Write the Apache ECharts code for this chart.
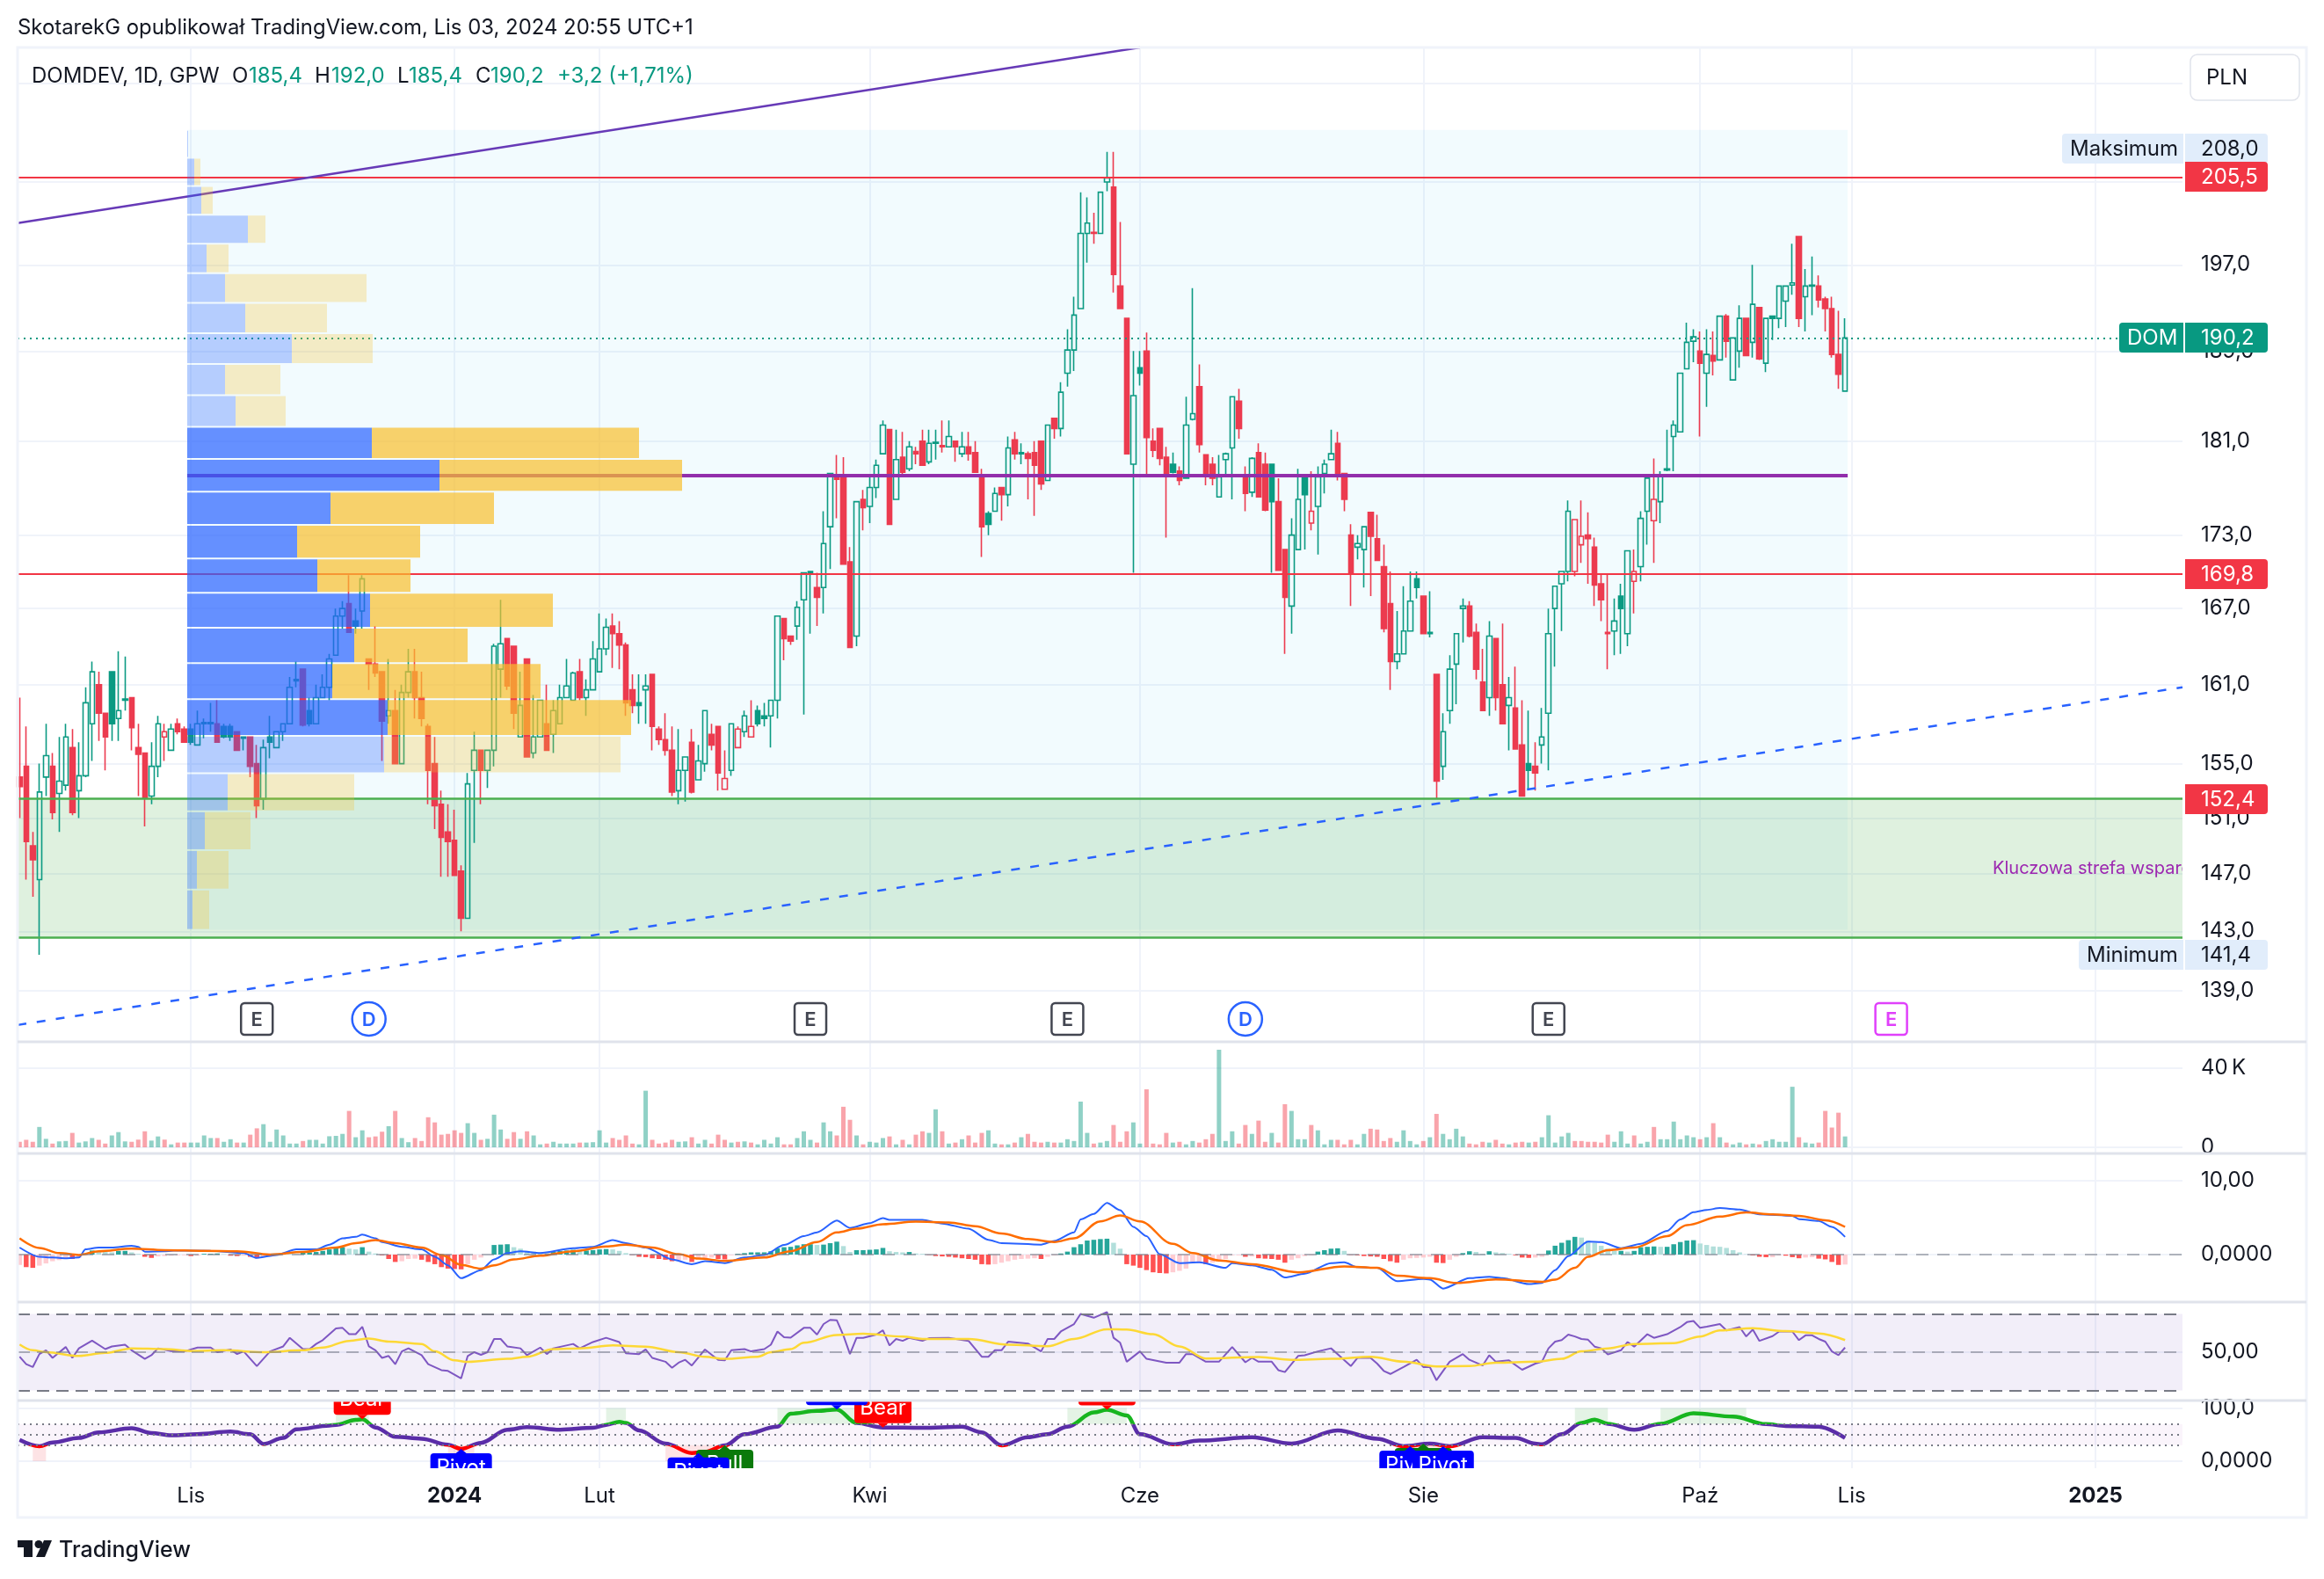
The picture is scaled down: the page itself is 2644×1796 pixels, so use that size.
<!DOCTYPE html>
<html lang="pl">
<head>
<meta charset="utf-8">
<title>DOMDEV, 1D, GPW</title>
<style>html,body{margin:0;padding:0;background:#fff}#chart{width:2644px;height:1796px}</style>
<script src="https://cdn.jsdelivr.net/npm/echarts@6/dist/echarts.min.js"></script>
</head>
<body>
<div id="chart"></div>
<script>
// Daily candles: open, high, low, close, and 1 when the close rose against the previous session.
const candles = [
[154,160,151,153.3,0],[154.8,157.8,146.6,149.3,0],[149,150,145.4,148,0],[146.6,155,141.4,152.9,1],[154,158,152.6,155.6,1],
[154.8,155.8,150.9,151.4,0],[152.8,157,150,153.7,1],[153.4,158,153,157,1],[156.2,157.6,151.2,151.4,0],[153,156.6,151,154.1,1],
[154.1,160.8,154,159.6,1],[158,162.8,155.2,162,1],[161,162,156.7,158.8,0],[158.8,158.8,154.5,157,0],[162,162,156.7,158,1],
[158.4,163.6,156.7,159,1],[159.8,163.2,159,159.9,1],[160,160,156,157.7,0],[156.2,158,152.6,155.7,0],[155.8,155.8,150.4,152.5,0],
[152.6,156.6,152,154.8,1],[154.8,158.6,154,158,1],[157,158,155.2,157.4,0],[156,158,156,157.6,1],[158,158.4,157.2,157.4,0],
[157.6,157.8,156.6,156.6,0],[157.6,158,156.4,156.6,1],[156.4,159,156.4,158,1],[158,158.4,156.9,158.1,1],[158,159.6,157.4,158.1,1],
[158,159.8,156.6,156.6,0],[157.8,158,156.9,157,1],[157.8,158,156.7,157,1],[157.4,157.4,156,156,0],[156.9,157,156,157,1],
[157,157,154,154.8,0],[155,156.4,151,151.9,0],[152.4,156.8,151.6,156.2,1],[157,158.6,155.4,156.6,1],[156.2,157.4,156.2,157.4,1],
[157.4,158,156.7,158,1],[158,161.6,158,160.8,1],[161.3,162.8,160.8,161.4,1],[162.2,162.2,157.8,157.9,0],[159,160,157.8,158,1],
[158,161,158,160,1],[160,161.8,160,160.8,1],[160.8,163.4,159.8,163,1],[163.3,167,163.3,166.4,1],[166.4,167.6,165.4,167,1],
[167.4,169.7,165.1,165.1,0],[166,167,165,165.6,1],[166.8,169.7,165.4,169.4,1],[163,163,160.6,162.6,0],[162.6,165.6,161.6,161.9,0],
[162,162,155.2,158.2,0],[158.6,163,158,159,1],[159,160.6,155,155,0],[155,161,155,160.4,1],[160.4,163.8,160,162,1],
[162,163.8,158.4,160,0],[160,162,157.8,158.4,0],[157.8,158,152,154.5,0],[155,157,150.2,151.9,0],[152,153,146.8,149.6,0],
[150,152,146.8,149.3,0],[149.4,151.6,146.9,146.9,0],[147.2,147.6,143,143.9,0],[143.9,154.3,143.9,153.5,1],[154.5,157.4,149.2,156,1],
[156,156,152,154.5,0],[154.5,156,153.2,156,1],[156,164.2,154.8,164,1],[162.2,167.7,160,164.2,1],[164.6,164.6,160.6,160.9,0],
[164,164,157.6,158.8,0],[157,162,157,159.4,1],[163,163,155.5,155.5,0],[155.8,160.2,155.4,157,1],[157,159.8,157,159.8,1],
[158,161,156,156,0],[157.2,159.8,155.8,159,1],[158,161,158,160,1],[160,163,160,160.9,1],[159.8,162,159.8,161.9,1],
[162,163,159.8,160,0],[160,161.4,158.6,160.6,1],[160.6,164.4,160.6,163,1],[162,166.6,162,163.8,1],[163.8,166.2,163.3,165.5,1],
[165.6,166.6,162.3,165,0],[165,166,162.2,164.1,0],[164.1,164.3,158.6,159.6,0],[160.6,161.8,158.8,159.4,0],[159.6,161.8,158,159.4,1],
[160.6,161.8,158,160.9,1],[161.8,161.8,156,157.8,0],[157.6,157.8,156.4,156.8,0],[156.8,158.8,155.6,156,0],[156,157.8,152.6,152.9,0],
[153,157.6,152,154.5,1],[154.5,155.5,152.2,155.5,1],[156.6,157.6,152.8,152.9,0],[153.8,156.4,153.8,155.2,1],[155,159,154.4,159,1],
[157.2,158,156,156.4,0],[157.8,157.8,153,154.3,0],[153.1,156,153.1,153.9,0],[154.5,158,154.1,158,1],[156.2,157.8,156.2,157.6,0],
[157.4,159,157,158.6,1],[157,159.8,157,157.8,0],[159,159.4,157.8,158,1],[158.6,159.6,157.8,158.4,1],[158.6,159.8,156.2,159.8,1],
[159.8,166.4,158.4,166.4,1],[166.2,166.2,162.9,164.6,0],[164.8,164.8,164.1,164.4,0],[165.6,167.6,164.5,167.1,1],[167.7,169.9,158.7,169.9,1],
[169.9,170,165,170,1],[168.7,169.9,165.6,167.9,0],[168.7,175,166.6,172.3,1],[173.7,178.2,170.2,178.2,1],[178,179.8,174.4,177.7,0],
[177.9,179.6,170.6,170.6,0],[170.8,172,163.9,163.9,0],[164.8,175.8,164,175.8,1],[176,176.8,173.4,175.3,0],[175.4,177.9,174,177,1],
[177,179.4,176.1,178.9,1],[179.9,182.8,179.9,182.4,1],[182,182,173.9,173.9,0],[176,182,176,179.4,1],[179.6,181.8,178.1,178.3,0],
[178.6,181,178.4,180.5,1],[180.1,180.5,179,179.9,0],[181,182,178.9,178.9,0],[179.2,182,179,180.8,1],[180.8,182,179.4,180.9,1],
[180.6,182.8,180,180.5,0],[180.5,182.8,180.5,181.4,1],[181,181,179.2,180.5,0],[179.9,181.8,179.6,180.5,1],[180.5,181.8,179.3,179.9,0],
[180,181,178.3,178.3,0],[178,178.6,171.2,173.7,0],[174.8,175,173,173.9,1],[175,177,175,176.5,1],[177,177,174.2,176.4,0],
[176.4,181.4,175.4,180.4,1],[181.1,181.8,179.4,179.9,0],[179.9,180.8,179,180,1],[179.9,180.1,176,179.5,0],[180,181,174.6,178.9,0],
[181,181,176.8,177.3,0],[177.6,182.4,177.6,182.4,1],[183,183,181.2,182.1,0],[182.1,186.2,181.4,185.3,1],[187,191,185.8,189.1,1],
[189.1,194,187.2,192.3,1],[192.9,204,192.9,200,1],[200,203.5,197.2,201,1],[200.1,202,199,200,0],[200,204,200,204,1],
[205,208,204.1,205.4,1],[204.5,208,194.4,196.1,0],[195,201.1,192.9,192.9,0],[192,192,179.9,179.9,0],[179,189,169.9,185,1],
[187.5,189,185.9,187,1],[189,190.7,178,181.3,0],[181,182.1,179.6,180.2,0],[182.1,182.1,178.9,179.5,0],[179.6,180.5,172.8,178,0],
[179,180,178.2,178.3,1],[178.4,178.8,177.2,177.6,0],[177.8,184.9,177.8,182.4,1],[182.9,194.8,182.8,183.4,1],[185.8,187.8,180,180.7,0],
[179.8,179.8,177.2,178,0],[179,179.6,177.2,177.8,0],[176.2,179.8,176.2,177.9,1],[179.4,180,178,179.9,1],[180.4,184.9,176,184.9,1],
[184.5,185.6,181.2,182.1,0],[177.8,178.8,175,176.5,0],[176.6,179.6,176.2,179.5,1],[180,180.8,176.2,176.2,0],[179,180,175,175.1,0],
[179,179,169.9,175.8,1],[175.8,177.8,170.1,170.1,0],[171.8,171.8,163.4,167.9,0],[167.2,174.4,165,173,1],[171.8,178.6,171.8,176,1],
[177.8,177.9,171.8,176.4,1],[174,178.4,173.4,175,0],[175.4,178.8,171.4,177.9,1],[178.2,179.4,176.5,179,1],[179.4,182,179.4,179.9,1],
[180.8,181.8,177.6,178,0],[178.2,178.2,175,176,0],[173,173.9,167.2,169.9,0],[172,173,171,172.3,1],[171.8,173.7,168.7,173.7,1],
[174.9,174.9,168,172.9,0],[172.7,174.7,170.9,170.9,0],[170.4,172.2,165.1,165.4,0],[167.4,170,160.6,162.8,0],[162.8,166.8,162.2,163.4,1],
[163.4,168.8,163.4,165.2,1],[165.2,170,165.2,167.6,1],[169.4,170,167.8,168.7,1],[168,168,165,165,0],[165,168.4,164.7,165.1,1],
[161.8,161.8,152.4,153.7,0],[154.8,158.8,153.8,157.4,1],[159,163.3,158,162.2,1],[162.6,165,159.5,165,1],[167,167.8,164.3,167.2,1],
[167.2,167.6,164.7,164.8,0],[165.1,165.8,161.4,162.2,0],[161.2,163.8,159,159,0],[160,166,158.6,164.8,1],[164.6,164.6,159,160,0],
[161,165.8,158,158,0],[159.4,161.6,156,160,1],[159.2,162.4,156.1,156.1,0],[156.4,159.8,152.6,152.6,0],[155,159,153.1,154.5,1],
[154.8,156.6,153,154.3,0],[156.4,159.2,155,157,1],[158.8,167,154.5,165,1],[167,168.8,162.4,168.8,1],[169,170,165.2,170,1],
[170,175.9,169.2,175,1],[170,174.3,169.6,174.3,0],[172.2,175.9,170.7,172.9,0],[173,174.9,169,172.7,0],[172,172.8,167.2,168.9,0],
[169,169.8,166,167.7,0],[165.1,169.8,162.2,165,0],[165.2,167.8,163.3,166,1],[168,169,163.4,167,1],[165,171.7,164,171.7,1],
[169.2,171.8,166.6,170,0],[170.4,175,169.2,174.4,1],[175,177.8,172.2,177.8,1],[174.2,179.5,170.7,176,0],[175.8,178.4,174,178,1],
[178.5,182,178.4,178.6,1],[181.4,182.8,178.4,182.4,1],[181.8,187,181.8,187,1],[187.4,191.6,187.4,189.8,1],[189.9,191,188,190.3,1],
[189,190.8,181.4,187.9,0],[187,191,184,188.7,1],[188.6,190.8,186.8,188.1,0],[188.2,192.2,188.2,192.2,1],[192.2,192.4,188.4,189.9,0],
[186.4,190.2,186.4,190.2,1],[189,193.2,187.5,192,1],[192,192,188.6,188.6,0],[189.8,197,188.4,193.3,1],[193,193,188.2,188.3,0],
[187.9,192,187.1,192,1],[192.2,192.2,190,192,1],[192,195,191.1,195,1],[193.6,195,191.2,195,1],[195.1,199,194.2,195.3,1],
[199.7,199.7,191.2,192,0],[194,196.6,190.8,195,1],[195,197.8,192.3,195.1,1],[195,196,193,193.7,0],[193.8,194,190.8,192.9,0],
[192.9,194,188.4,188.7,0],[188.7,192.7,185.6,186.9,0],[185.4,192,185.4,190.2,1]
];

// Session volume, in thousands of shares.
const volumes = [
2.8,3.8,2.8,10.3,4.3,1.9,3,3.2,7.3,2.4,3,4.7,3.8,1.9,6,7.7,3,2.8,3.9,8.1,
3.4,5.5,3.9,1.5,2.4,2.4,2.4,2.4,6,4.7,4.7,2.8,4.1,2.4,2.4,6.4,9.6,11.7,2.8,9,
6,1.9,1.9,3.2,3.8,3.8,1.9,5.6,5.8,6.8,18.4,5.1,8.6,5.1,5.5,7.9,10.7,18.4,4.7,2.6,
4.7,3.2,15.2,12.6,6.4,6.8,8.6,7.3,12.2,7.3,3.8,4.3,16.5,9,4.3,7.7,4.3,8.1,6,1.5,
1.9,2.8,1.9,1.9,1.9,2.4,2.4,2.6,8.6,2.4,4.7,3.8,6,1.9,1.5,28.6,3.8,1.9,2.4,3.8,
2.8,3,5.1,1.9,3.8,1.9,6.4,3.8,2.4,2.8,3,2.4,1.5,3.8,1.9,5.1,1.5,1.5,4.7,8.1,
3.8,2.4,12.6,8.1,6,20.5,13.9,6,1.5,2.8,2.4,4.7,5.5,1.5,3.8,1.5,6.4,8.1,7.3,19.2,
8.1,1.9,2.4,4.1,6,2.4,7.3,8.6,1.9,1.5,1.5,2.4,5.1,6.8,2.8,2.4,2.8,2.4,2.4,4.1,
3.2,23.1,7.3,1.9,2.4,3.2,11.3,2.8,8.1,12.6,1.9,29.3,1.9,1.5,7.3,2.4,2.8,1.5,3.2,2.4,
4.1,6.8,49.3,3.2,8.1,1.9,11.3,6.8,13.5,2.8,7.3,2.4,21.8,18.4,4.1,4.1,11.3,8.6,1.5,3.8,
3.8,1.5,3.8,1.5,6.8,9.4,9,3.2,4.7,2.8,8.6,3.2,1.5,3.2,5.1,16.9,6.8,4.1,9.4,5.5,
1.9,1.5,2.8,2.4,3.8,1.9,1.5,2.4,2.8,2.4,2.8,5.1,16.2,2.4,5.5,7.3,3.2,3.2,2.8,2.8,
2.4,6.4,2.8,8.1,1.9,6,1.9,2.8,10.3,4.1,4.1,13,4.1,6,5.1,4.1,5.1,12.2,5.1,2.4,
1.5,2.4,1.5,1.9,1.5,3.2,4.1,2.8,2.8,30.6,5.1,2.4,1.9,2.4,18.4,10,17.5,5.5
];

// MACD histogram, one value per session.
const macdHistogram = [
-1.4,-1.7,-1.8,-1.5,-1.2,-.9,-.75,-.55,-.6,-.45,-.1,.55,.5,.35,.3,.5,.5,.3,.1,-.3,
-.45,-.25,-.2,-.15,-.1,-.1,-.2,-.15,.1,.1,.15,.05,-.15,-.2,-.15,-.3,-.5,-.3,-.1,.1,
.2,.1,.05,.25,.3,.35,.5,.7,.85,1,.8,.7,1,.4,.15,-.1,-.6,-1,-.9,-.6,-.55,-.7,-1,-1.3,
-1.7,-1.9,-1.95,-2,-1.3,-.7,-.4,0,1.3,1.35,1.4,1,.8,.5,.4,.3,.2,.35,.5,.55,.65,.5,
.55,.6,.7,.75,.7,.5,.2,-.05,-.3,-.35,-.5,-.6,-.7,-.9,-.8,-.7,-1,-.6,-.5,-.4,-.6,-.65,
-.1,.1,.2,.3,.3,.3,.45,.85,1,1.05,1.25,1.4,1.4,1.3,1.35,1.55,1.75,1.15,.35,.6,.6,.65,
.7,.9,.45,.35,.3,.35,.15,.1,-.05,-.2,-.25,-.3,-.4,-.5,-.6,-.7,-1.3,-1.35,-1.3,-1.1,
-.9,-.7,-.6,-.55,-.5,-.6,-.3,-.1,.15,.4,1,1.4,1.9,2,2.1,2.15,1.6,.8,-1.3,-1.5,-1.8,
-2.1,-2.4,-2.5,-2.55,-2.4,-2.2,-1.9,-1.2,-1.15,-1.3,-1.1,-.8,-.6,-.1,-.1,-.3,-.25,-.5,
-.55,-.6,-.7,-1.1,-.7,-.5,-.2,-.1,.4,.6,.8,.85,.5,-.05,-.1,-.2,-.25,-.3,-.6,-.9,-1.1,
-.7,-.5,-.45,-.4,-.3,-1.1,-1.15,-.7,-.3,.2,.45,.35,.1,.45,.3,.2,.1,-.1,-.4,-.45,-.4,
-.3,.55,1.2,1.6,1.95,2.4,2.3,1.9,1.6,1.2,.8,.5,.5,.4,.5,1,1.05,1.1,1.05,1.05,1.4,1.7,
1.9,1.95,1.5,1.3,1.1,1.05,.9,.6,.3,.05,-.1,-.3,-.35,-.35,-.1,-.15,-.35,-.5,-.4,-.35,
-.55,-.65,-1,-1.4,-1.35
];

// Indicator readings as [session, value].
const macdLine = [[0,.95],[3,-.3],[5,-.4],[7,-.5],[9,-.4],[10,.7],[12,.95],[14,.95],[17,1.2],[18,1.05],[19,.4],[22,.45],[24,.55],[29,.5],[34,.2],[36,-.45],[39,-.05],[42,.7],[45,.7],[47,1.35],[49,2.2],[51,2.4],[52,2.7],[54,2.2],[55,1.7],[58,1.05],[61,.7],[63,-.3],[65,-1.45],[67,-3.2],[70,-2.1],[72,-.65],[74,.2],[76,.45],[79,.2],[84,.85],[87,1.05],[90,1.95],[92,1.55],[95,.95],[99,-.65],[102,-1.3],[104,-.9],[107,-1.15],[110,-.4],[113,-.05],[116,1.3],[119,2.5],[121,3],[124,4.6],[126,3.6],[129,4.25],[131,4.95],[132,4.7],[137,4.7],[140,4.2],[144,3.5],[147,2],[149,1.55],[155,1.35],[157,1.85],[160,3],[161,4.75],[163,5.5],[165,7],[167,6],[169,3.75],[171,2.5],[173,.05],[176,-1.15],[179,-1.05],[183,-1.8],[184,-1.15],[187,-1.45],[190,-2.05],[192,-3.1],[195,-2.6],[199,-1.15],[201,-1.05],[203,-1.7],[206,-1.8],[209,-3.6],[213,-3.3],[214,-3.4],[216,-4.6],[220,-3.2],[223,-3],[225,-3.2],[229,-4],[231,-3.85],[233,-2.1],[235,-.2],[238,1.75],[240,1.7],[243,.85],[246,1.45],[250,3.2],[252,4.75],[254,5.75],[256,6.05],[258,6.3],[261,6.1],[264,5.45],[269,5.25],[270,4.8],[273,4.55],[275,3.75],[277,2.4]];
const macdSignal = [[0,2.2],[3,.9],[6,.2],[9,-.05],[12,.45],[17,.8],[22,.6],[28,.5],[33,.45],[38,0],[43,.35],[48,.95],[51,1.55],[54,1.95],[57,1.55],[61,.95],[64,-.05],[67,-1.4],[70,-1.9],[72,-1.45],[75,-.65],[79,-.15],[84,.45],[89,1.1],[92,1.35],[96,.95],[100,.05],[103,-.55],[107,-.85],[113,-.4],[117,.45],[121,1.7],[124,3],[127,3.5],[131,4.1],[136,4.45],[141,4.35],[145,3.85],[149,2.85],[153,2.1],[157,1.7],[160,2.2],[164,4.5],[167,5.3],[170,4.5],[175,1.45],[178,.2],[182,-.8],[187,-1.3],[194,-2.4],[201,-1.6],[206,-1.8],[209,-2.85],[214,-3.2],[218,-3.85],[224,-3.35],[231,-3.7],[233,-3.4],[236,-1.8],[238,-.3],[241,.6],[245,.95],[250,2.5],[253,4],[258,5.15],[262,5.7],[266,5.45],[270,5.25],[274,4.65],[277,3.75]];
const rsiLine = [[0,47.6],[1,43.7],[2,42.2],[3,49],[4,51],[5,47],[7,52.7],[8,47],[9,52],[11,56],[13,51.6],[14,53],[16,53.9],[17,51],[19,46.5],[20,48.4],[21,52],[23,50.6],[25,50.4],[27,52.4],[29,52.4],[30,50],[32,51.4],[33,49],[34,50.4],[36,42.7],[38,50.4],[40,53],[41,57.5],[43,51.6],[44,51.6],[45,54.3],[46,56.3],[48,62.4],[49,62.7],[50,59.4],[51,59.4],[52,63.3],[53,53],[54,51],[55,47],[56,48],[57,43.7],[58,50.4],[59,52],[61,48.4],[62,43.7],[64,40.6],[65,40.2],[67,36.3],[68,48],[69,50],[70,48.6],[71,50],[72,56.9],[73,56.9],[74,53],[76,52],[77,48.4],[79,52.4],[80,49],[81,52],[84,54.3],[85,52],[87,55.3],[89,57.5],[91,55.3],[92,49.4],[94,49],[95,51.4],[96,47],[98,45],[99,41.8],[100,44.5],[101,46],[102,43],[104,51.4],[106,46],[107,45.7],[108,51],[110,51.6],[111,50.4],[113,51.6],[114,53.9],[115,60.8],[116,57.8],[117,57.6],[119,62.7],[120,62.7],[121,59.2],[122,64.7],[123,66.9],[124,66.7],[125,58.8],[126,49],[127,57.5],[128,57.5],[130,59.2],[131,61.4],[132,53.5],[133,56.9],[134,55.9],[135,57.5],[137,55.9],[138,57.3],[141,57.5],[144,55.9],[146,47.6],[147,47.6],[148,51],[149,51],[150,55.5],[153,54.5],[155,50.4],[156,56.9],[157,56.9],[158,60.8],[160,64.7],[161,70],[163,68],[165,71],[166,57.5],[167,54.9],[168,45],[170,50.4],[171,46.5],[174,44.5],[176,44.5],[177,49],[178,49],[180,45],[182,45],[184,52.7],[186,44.7],[187,47],[188,45],[190,45],[191,40.6],[192,39.6],[194,48],[195,48.4],[197,50.4],[199,52],[200,49],[202,42.7],[203,47],[205,47],[206,44],[207,40.2],[208,38.6],[210,42.2],[212,46],[213,42.2],[214,42.2],[215,35.3],[217,45],[219,49],[220,46],[222,43],[223,48.4],[224,45],[226,45.7],[228,40.8],[230,44],[231,45],[232,52],[233,55.5],[234,56.3],[235,59.2],[236,58.2],[237,56.9],[238,56.5],[239,52.9],[240,52],[241,48.8],[243,51],[244,55.3],[245,52.9],[247,59.4],[248,57.5],[250,59.4],[252,63.1],[253,65.7],[254,66.3],[255,62.7],[256,63.3],[258,64.7],[259,61.4],[261,63.1],[262,58.2],[263,61.8],[264,55.9],[266,58.4],[267,60.8],[269,60.8],[270,56.3],[271,58.8],[272,58.8],[273,56.9],[274,55.5],[275,50.4],[276,48.4],[277,52.4]];
const rsiAverage = [[0,54],[2,51],[4,50],[9,48],[13,49.6],[17,52],[22,51.6],[26,50.6],[31,51],[37,50],[43,51],[46,52.4],[50,55.9],[53,57.1],[56,55.5],[61,54.3],[63,50.4],[66,45.7],[68,44.9],[74,46.5],[77,47.6],[81,51.6],[85,52],[90,53.5],[95,52.9],[100,50],[104,47.6],[107,46.5],[112,47.6],[114,50],[117,51.6],[119,54.9],[124,59],[128,59.6],[134,58.2],[137,56.9],[144,56.9],[150,53.9],[156,53.1],[160,56.9],[165,62],[168,61.8],[172,59.4],[176,53],[180,46.7],[188,47.5],[193,46],[199,46.5],[205,47.6],[210,45],[215,42.5],[220,42.7],[224,44.5],[230,45],[234,46.5],[237,50.4],[241,52],[245,54.3],[251,54.7],[255,58.2],[258,61.4],[263,62.5],[268,61],[273,59.8],[277,56.3]];
const waveLine = [[0,40.1],[3,28.2],[5,35.2],[9,43.7],[12,54.2],[17,62],[20,53],[23,48.6],[27,50.7],[32,55.6],[35,50.7],[37,32.4],[40,43.7],[42,60],[47,66.9],[48,68.3],[51,77.5],[52,78.9],[54,63.4],[57,45.8],[61,42.3],[65,31],[67,23.2],[70,34.5],[74,59.2],[77,64.1],[82,59.2],[87,62.7],[89,68.3],[91,73.9],[92,71.8],[94,57.7],[98,32.9],[102,15.5],[104,17.6],[107,29.6],[110,50.7],[115,64.8],[117,89.4],[121,94.4],[124,97.2],[127,71.8],[131,63.4],[137,62.7],[143,64.8],[146,54.2],[149,29.6],[153,45],[156,50.7],[159,64.8],[163,91.5],[165,96.5],[168,86],[170,50.7],[175,31.7],[179,38.7],[187,45],[193,33],[200,57.7],[206,42.3],[210,28.2],[214,33],[217,28.2],[222,45],[227,43.7],[230,33],[231,31.7],[234,50.7],[237,71.8],[239,78.2],[241,70.4],[245,59.2],[249,70.4],[254,90.1],[260,83.8],[265,69.7],[268,66.2],[273,64.8],[277,43.7]];

// Oscillator signals as [session, oscillator value].
const bearSignals = [[52,78.9],[131,63.4],[165,96.5]];
const pivotHighs = [[124,97.2]];
const bullSignals = [[107,29.6],[213,33]];
const pivotLows = [[67,23.2],[103,15.5],[211,28.2],[216,28.2]];

// Spans where the oscillator sits outside its 30-70 channel, as session ranges.
const overboughtSpans = [[48,53],[89,92],[115,127],[159,168],[236,241],[249,262]];
const oversoldSpans = [[2,4],[65,69],[98,106],[209,217]];

// Visible-range volume profile, top row first: buying and selling volume per row.
const profileBuy = [1,8,16,69,22,43,66,119,43,55,210,287,163,125,148,208,190,165,228,224,46,20,11,6];
const profileSell = [0,7,13,20,25,161,93,92,63,57,304,276,186,140,106,208,129,237,277,269,144,52,36,19];
const profileStrong = [0,0,0,0,0,0,0,0,0,0,1,1,1,1,1,1,1,1,1,0,0,0,0,0];
const profileLow = 143.1, profileHigh = 210.2;

// Axis ticks.
const priceGrid = [215,205,197,189,181,173,167,161,155,151,147,143,139];
const priceLabels = [197,189,181,173,167,161,155,151,147,143,139];
const monthSessions = [26,66,88,129,170,213,255,278,315];
const monthNames = ['Lis','2024','Lut','Kwi','Cze','Sie','Paź','Lis','2025'];

// Horizontal levels and sloped drawings.
const resistanceLevels = [205.5,169.8];
const supportZone = [152.4,142.6];
const pointOfControl = 178;
const lastClose = 190.2;
const risingChannel = [[-0.3,201],[170,218.7]];
const supportTrend = [[-0.3,136.7],[328.2,160.8]];

// Earnings and dividend flags along the bottom of the price pane.
const eventSessions = [[36,'E'],[53,'D'],[120,'E'],[159,'E'],[186,'D'],[232,'E'],[284,'F']];

// Tags on the price scale: price, text, prefix, background, text colour, pixel nudge.
const priceTags = [
  [208,'208,0','Maksimum','#e1edfb','#131722',-4],
  [205.5,'205,5','','#f23645','#ffffff',0],
  [190.2,'190,2','DOM','#089981','#ffffff',0],
  [169.8,'169,8','','#f23645','#ffffff',0],
  [152.4,'152,4','','#f23645','#ffffff',0],
  [141.4,'141,4','Minimum','#e1edfb','#131722',0]
];

const FONT = 'Inter, "Noto Sans", sans-serif';
const INK = '#131722', RULE = '#f0f3fa', PANE_RULE = '#e0e3eb';
const GREEN = '#0b9a82', RED = '#ec3b4f';
const HOLLOW = 'rgba(0,0,0,0)';
const LEFT = 20, WIDTH = 2463;
const X_MIN = -0.307, X_MAX = 328.2;
const chart = echarts.init(document.getElementById('chart'), null, {renderer: 'canvas'});

const panes = [
  {top: 54, height: 1131},
  {top: 1185, height: 127},
  {top: 1312, height: 169},
  {top: 1481, height: 112},
  {top: 1593, height: 77}
];

// A body stays hollow when the session closed above its open, solid otherwise.
const candleData = candles.map((c, i) => {
  const tone = c[4] ? GREEN : RED;
  const body = c[3] > c[0] ? HOLLOW : tone;
  return {
    value: [i, c[0], c[3], c[2], c[1]],
    itemStyle: {color: body, color0: body, borderColor: tone, borderColor0: tone}
  };
});
const volumeData = volumes.map((v, i) => ({
  value: [i, v],
  itemStyle: {color: candles[i][4] ? 'rgba(8,153,129,.45)' : 'rgba(242,54,69,.45)'}
}));
const histogramData = macdHistogram.map((v, i) => {
  const before = i ? macdHistogram[i - 1] : v;
  const color = v >= 0 ? (v >= before ? '#26a69a' : '#b2dfdb') : (v < before ? '#ff5252' : '#ffcdd2');
  return {value: [i, v], itemStyle: {color}};
});

function xAxisFor(gridIndex) {
  const isLast = gridIndex === 4;
  return {
    type: 'value', gridIndex, min: X_MIN, max: X_MAX, silent: true,
    axisLine: {show: false},
    axisTick: {show: false, customValues: monthSessions},
    splitLine: {show: true, lineStyle: {color: RULE, width: 2}},
    axisLabel: {
      show: isLast, customValues: monthSessions, margin: 20, fontFamily: FONT, fontSize: 24, color: INK,
      formatter: v => {
        const name = monthNames[monthSessions.indexOf(v)];
        return /^\d+$/.test(name) ? '{b|' + name + '}' : name;
      },
      rich: {b: {fontFamily: FONT, fontSize: 24, fontWeight: 700, color: INK}}
    }
  };
}
function yAxisFor(gridIndex, opts) {
  return Object.assign({
    type: 'value', gridIndex, position: 'right', silent: true,
    axisLine: {show: false},
    axisTick: {show: false, customValues: opts.grid},
    splitLine: {show: true, lineStyle: {color: RULE, width: 2}},
    axisLabel: {customValues: opts.labels, margin: 21, fontFamily: FONT, fontSize: 24, color: INK, formatter: opts.format}
  }, opts.range);
}

const xAxes = [0, 1, 2, 3, 4].map(xAxisFor);
// Hidden horizontal scale for the profile rows, starting where the range begins.
xAxes.push({type: 'value', gridIndex: 0, show: false, min: -193, max: 2270});

const yAxes = [
  yAxisFor(0, {grid: priceGrid, labels: priceLabels, format: v => v.toFixed(1).replace('.', ','),
    range: {type: 'log', logBase: 10, min: 135.6, max: 218.7}}),
  yAxisFor(1, {grid: [0, 40], labels: [0, 40], format: v => v ? v + '\u202fK' : '0', range: {min: -3.1, max: 53.3}}),
  yAxisFor(2, {grid: [0, 10], labels: [0, 10], format: v => v ? '10,00' : '0,0000', range: {min: -6.43, max: 13.69}}),
  yAxisFor(3, {grid: [50], labels: [50], format: () => '50,00', range: {min: 24.7, max: 76.2}}),
  yAxisFor(4, {grid: [0, 100], labels: [0, 100], format: v => v ? '100,0' : '0,0000', range: {min: -13.2, max: 114}})
];

function level(y, color, width, type) {
  return {yAxis: y, lineStyle: {color, width, type}};
}
const noMark = {symbol: ['none', 'none'], silent: true, label: {show: false}, animation: false};

// Volume profile rows are drawn above the candles, which stay visible through them.
function renderProfile(params, api) {
  const i = api.value(0);
  const step = (profileHigh - profileLow) / profileBuy.length;
  const topPrice = profileHigh - i * step, botPrice = topPrice - step;
  const buy = profileBuy[i], sell = profileSell[i], strong = profileStrong[i];
  const a = api.coord([0, topPrice]), b = api.coord([buy, botPrice]), c = api.coord([buy + sell, botPrice]);
  const y = a[1] + 1, h = b[1] - a[1] - 2;
  return {type: 'group', children: [
    {type: 'rect', shape: {x: a[0], y, width: b[0] - a[0], height: h},
      style: {fill: strong ? 'rgba(41,98,255,.7)' : 'rgba(41,98,255,.3)'}},
    {type: 'rect', shape: {x: b[0], y, width: c[0] - b[0], height: h},
      style: {fill: strong ? 'rgba(249,191,44,.7)' : 'rgba(249,191,44,.27)'}}
  ]};
}

function renderTag(params, api) {
  const row = priceTags[api.value(0)];
  const p = api.coord([X_MAX, row[0]]);
  const cy = Math.round(p[1]) + row[5];
  const kids = [
    {type: 'rect', shape: {x: 2486, y: cy - 17, width: 94, height: 34, r: [0, 4, 4, 0]}, style: {fill: row[3]}},
    {type: 'text', style: {x: 2504, y: cy + 1, text: row[1], fill: row[4], font: '24px ' + FONT, align: 'left', verticalAlign: 'middle'}}
  ];
  if (row[2]) {
    const w = row[2] === 'DOM' ? 73 : row[2] === 'Minimum' ? 119 : 138;
    kids.push(
      {type: 'rect', shape: {x: 2484 - w, y: cy - 17, width: w, height: 34, r: [4, 0, 0, 4]}, style: {fill: row[3]}},
      {type: 'text', style: {x: 2484 - w + 9, y: cy + 1, text: row[2], fill: row[4], font: '24px ' + FONT, align: 'left', verticalAlign: 'middle'}}
    );
  }
  return {type: 'group', children: kids};
}

function renderSignal(params, api) {
  const pt = api.coord([api.value(0), api.value(1)]);
  const kind = api.value(2);
  const colors = ['#ff0000', '#0000ff', '#0b7a0b', '#0000ff'];
  const texts = ['Bear', 'Pivot', 'Bull', 'Pivot'];
  const up = kind < 2;
  const w = kind === 0 || kind === 2 ? 65 : 70, h = 34;
  const tip = pt[1];
  const edge = tip + (up ? -5 : 5);
  const boxY = up ? edge - h : edge;
  return {type: 'group', children: [
    {type: 'polygon', shape: {points: [[pt[0], tip], [pt[0] - 6, edge], [pt[0] + 6, edge]]}, style: {fill: colors[kind]}},
    {type: 'rect', shape: {x: pt[0] - w / 2, y: boxY, width: w, height: h, r: 4}, style: {fill: colors[kind]}},
    {type: 'text', style: {x: pt[0], y: boxY + h / 2, text: texts[kind], fill: '#fff', font: '24px ' + FONT, align: 'center', verticalAlign: 'middle'}}
  ]};
}

const signalRows = []
  .concat(bearSignals.map(s => [s[0], s[1], 0]))
  .concat(pivotHighs.map(s => [s[0], s[1], 1]))
  .concat(bullSignals.map(s => [s[0], s[1], 2]))
  .concat(pivotLows.map(s => [s[0], s[1], 3]));

const series = [
  // Range backdrop and support zone
  {type: 'line', xAxisIndex: 0, yAxisIndex: 0, data: [], z: 1, silent: true,
    markArea: {silent: true, z: 1, animation: false, data: [
      [{coord: [25.43, profileHigh], itemStyle: {color: 'rgba(3,169,244,.05)'}}, {coord: [277.4, profileLow]}],
      [{coord: [X_MIN, supportZone[0]], itemStyle: {color: 'rgba(76,175,80,.18)'}}, {coord: [X_MAX, supportZone[1]]}]
    ]}},
  // Candles
  {type: 'candlestick', xAxisIndex: 0, yAxisIndex: 0, data: candleData, barWidth: 6, z: 2,
    itemStyle: {borderWidth: 1.6}, animation: false, silent: true},
  // Levels and trend lines
  {type: 'line', xAxisIndex: 0, yAxisIndex: 0, data: [], z: 3, silent: true,
    markLine: Object.assign({}, noMark, {z: 3, data: [
      ...resistanceLevels.map(v => level(v, '#f23645', 2, 'solid')),
      ...supportZone.map(v => level(v, '#4caf50', 2.5, 'solid')),
      level(lastClose, '#089981', 2, [2, 5]),
      [{coord: [25.43, pointOfControl], lineStyle: {color: '#922eab', width: 4, type: 'solid'}}, {coord: [277.4, pointOfControl]}],
      [{coord: risingChannel[0], lineStyle: {color: '#673ab7', width: 2.5, type: 'solid'}}, {coord: risingChannel[1]}],
      [{coord: supportTrend[0], lineStyle: {color: '#2962ff', width: 2.5, type: [10, 12]}}, {coord: supportTrend[1]}]
    ]})},
  // Zone note, cut off by the plot edge
  {type: 'custom', xAxisIndex: 0, yAxisIndex: 0, z: 3, clip: true, silent: true, data: [[299.4, 147.4]],
    encode: {x: 0, y: 1},
    renderItem: (p, api) => {
      const pt = api.coord([api.value(0), api.value(1)]);
      return {type: 'text', style: {x: pt[0], y: pt[1], text: 'Kluczowa strefa wsparcia', fill: '#9c27b0', font: '20px ' + FONT, align: 'left', verticalAlign: 'middle'}};
    }},
  // Volume profile
  {type: 'custom', xAxisIndex: 5, yAxisIndex: 0, z: 4, silent: true,
    data: profileBuy.map((v, i) => [i]), encode: {x: -1, y: -1}, renderItem: renderProfile},
  // Event flags
  {type: 'custom', xAxisIndex: 0, yAxisIndex: 0, z: 4, silent: true,
    data: eventSessions.map((e, i) => [e[0], 137.1, i]), encode: {x: 0, y: 1},
    renderItem: (p, api) => {
      const pt = api.coord([api.value(0), api.value(1)]);
      const ev = eventSessions[api.value(2)];
      const isDiv = ev[1] === 'D', isNext = ev[1] === 'F';
      const col = isDiv ? '#2962ff' : isNext ? '#e040fb' : '#434651';
      const frame = isDiv
        ? {type: 'circle', shape: {cx: pt[0], cy: pt[1], r: 19}, style: {fill: '#fff', stroke: col, lineWidth: 2.5}}
        : {type: 'rect', shape: {x: pt[0] - 18, y: pt[1] - 18, width: 36, height: 36, r: 4}, style: {fill: '#fff', stroke: col, lineWidth: 2.5}};
      return {type: 'group', children: [frame,
        {type: 'text', style: {x: pt[0], y: pt[1] + 1, text: isDiv ? 'D' : 'E', fill: col, font: '600 22px ' + FONT, align: 'center', verticalAlign: 'middle'}}]};
    }},
  // Price scale tags
  {type: 'custom', xAxisIndex: 0, yAxisIndex: 0, z: 6, silent: true,
    data: priceTags.map((t, i) => [i]), encode: {x: -1, y: -1}, renderItem: renderTag},
  // Volume
  {type: 'bar', xAxisIndex: 1, yAxisIndex: 1, data: volumeData, barWidth: 5, animation: false, silent: true},
  // MACD
  {type: 'bar', xAxisIndex: 2, yAxisIndex: 2, data: histogramData, barWidth: 5.5, animation: false, silent: true,
    markLine: Object.assign({}, noMark, {data: [level(0, 'rgba(120,123,134,.55)', 2, [14, 10])]})},
  {type: 'line', xAxisIndex: 2, yAxisIndex: 2, data: macdLine, showSymbol: false, silent: true, animation: false,
    smooth: 0.25, smoothMonotone: 'x', lineStyle: {color: '#2962ff', width: 2}},
  {type: 'line', xAxisIndex: 2, yAxisIndex: 2, data: macdSignal, showSymbol: false, silent: true, animation: false,
    smooth: 0.35, smoothMonotone: 'x', lineStyle: {color: '#ff6d00', width: 2.5}},
  // RSI
  {type: 'line', xAxisIndex: 3, yAxisIndex: 3, data: rsiLine, showSymbol: false, silent: true, animation: false,
    lineStyle: {color: '#7e57c2', width: 2},
    markArea: {silent: true, animation: false, itemStyle: {color: 'rgba(126,87,194,.1)'},
      data: [[{yAxis: 70}, {yAxis: 30}]]},
    markLine: Object.assign({}, noMark, {data: [
      level(70, '#787b86', 2, [14, 8]), level(30, '#787b86', 2, [14, 8]), level(50, 'rgba(120,123,134,.55)', 2, [14, 8])
    ]})},
  {type: 'line', xAxisIndex: 3, yAxisIndex: 3, data: rsiAverage, showSymbol: false, silent: true, animation: false,
    smooth: 0.35, smoothMonotone: 'x', lineStyle: {color: '#fdd835', width: 2.5}},
  // Oscillator
  {type: 'line', xAxisIndex: 4, yAxisIndex: 4, data: waveLine, showSymbol: false, silent: true, animation: false,
    smooth: 0.35, smoothMonotone: 'x', lineStyle: {width: 4.5},
    markArea: {silent: true, animation: false, data: [
      [{yAxis: 70, itemStyle: {color: 'rgba(156,39,176,.05)'}}, {yAxis: 30}],
      ...overboughtSpans.map(s => [{coord: [s[0], 100], itemStyle: {color: 'rgba(76,175,80,.15)'}}, {coord: [s[1], 70]}]),
      ...oversoldSpans.map(s => [{coord: [s[0], 30], itemStyle: {color: 'rgba(242,54,69,.14)'}}, {coord: [s[1], 0]}])
    ]},
    markLine: Object.assign({}, noMark, {data: [
      level(70, '#787b86', 2, [2, 5]), level(50, '#787b86', 2, [2, 5]), level(30, '#787b86', 2, [2, 5])
    ]})},
  {type: 'custom', xAxisIndex: 4, yAxisIndex: 4, clip: true, z: 5, silent: true, data: signalRows,
    encode: {x: 0, y: 1}, renderItem: renderSignal}
];

function label(x, y, text, fill, extra) {
  return {type: 'text', z: 50, x, y, silent: true, style: Object.assign({
    text, fill: fill || INK, font: '24px ' + FONT, align: 'left', verticalAlign: 'middle'
  }, extra || {})};
}
const UP = '#089981';
const graphicEls = [
  // Pane frame and separators
  {type: 'rect', z: 40, silent: true, shape: {x: 20, y: 54, width: 2604, height: 1672},
    style: {fill: 'none', stroke: RULE, lineWidth: 3}},
  ...[1185, 1312, 1481, 1593].map(y => ({type: 'line', z: 40, silent: true,
    shape: {x1: 20, y1: y, x2: 2624, y2: y}, style: {stroke: PANE_RULE, lineWidth: 3}})),
  // Header and legend
  label(20, 32, 'SkotarekG opublikował TradingView.com, Lis 03, 2024 20:55 UTC+1', INK, {font: '23.9px ' + FONT}),
  label(36, 87, 'DOMDEV, 1D, GPW'),
  label(264, 87, 'O'), label(283, 87, '185,4', UP),
  label(358, 87, 'H'), label(377, 87, '192,0', UP),
  label(452, 87, 'L'), label(465, 87, '185,4', UP),
  label(541, 87, 'C'), label(558, 87, '190,2', UP),
  label(634, 87, '+3,2 (+1,71%)', UP),
  // Currency button
  {type: 'rect', z: 40, silent: true, shape: {x: 2492, y: 62, width: 124, height: 52, r: 8},
    style: {fill: '#fff', stroke: PANE_RULE, lineWidth: 1.5}},
  label(2510, 89, 'PLN'),
  // Publisher mark
  {type: 'polygon', z: 40, silent: true, shape: {points: [[20,1752],[37,1752],[37,1771],[27,1771],[27,1760],[20,1760]]}, style: {fill: INK}},
  {type: 'circle', z: 40, silent: true, shape: {cx: 44, cy: 1756.5, r: 4.5}, style: {fill: INK}},
  {type: 'polygon', z: 40, silent: true, shape: {points: [[50,1752],[59,1752],[51,1771],[41,1771]]}, style: {fill: INK}},
  label(67, 1763, 'TradingView', INK, {font: '500 25px ' + FONT})
];

chart.setOption({
  animation: false,
  backgroundColor: '#fff',
  textStyle: {fontFamily: FONT},
  grid: panes.map(p => ({left: LEFT, width: WIDTH, top: p.top, height: p.height, containLabel: false})),
  xAxis: xAxes,
  yAxis: yAxes,
  visualMap: [{
    show: false, type: 'piecewise', seriesIndex: series.findIndex(s => s.data === waveLine), dimension: 1,
    pieces: [{lt: 30, color: '#ff0000'}, {gte: 30, lt: 70, color: '#5a2da8'}, {gte: 70, color: '#17b51f'}]
  }],
  graphic: graphicEls,
  series
});
</script>
</body>
</html>
